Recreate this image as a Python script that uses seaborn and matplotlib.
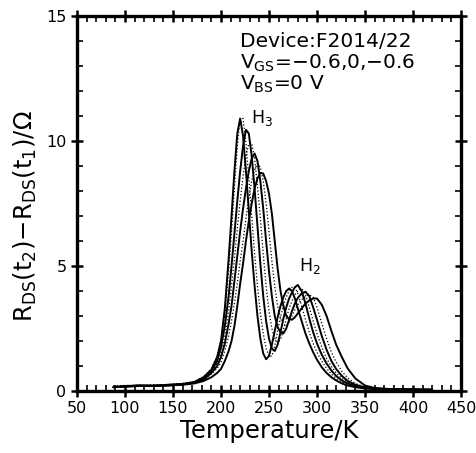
import matplotlib
matplotlib.use("Agg")
import matplotlib.pyplot as plt
import seaborn as sns
from matplotlib.ticker import MultipleLocator

# Temperatura común (K) para todas las curvas
temp = [88, 100, 115, 130, 145, 160, 172, 182, 190, 196, 200, 204, 208, 211, 214, 217,
        220, 223, 226, 229, 232, 235, 238, 241, 244, 247, 250, 253, 256, 259, 262, 265,
        268, 271, 274, 277, 280, 284, 288, 292, 296, 300, 305, 310, 315, 320, 326, 332,
        340, 350, 360, 375, 390, 405, 420]

# R_DS(t2) - R_DS(t1) en ohmios, una lista por curva (sólida / punteada alternadas)
curve_0 = [0.15, 0.20, 0.22, 0.20, 0.25, 0.28, 0.35, 0.55, 0.85, 1.35, 2.0, 3.3, 5.3, 7.0, 8.8, 10.3,
           10.9, 10.2, 8.8, 7.2, 5.6, 4.2, 3.0, 2.1, 1.5, 1.27, 1.4, 1.85, 2.4, 2.95, 3.4, 3.75,
           4.0, 4.1, 4.0, 3.7, 3.3, 2.8, 2.3, 1.9, 1.55, 1.25, 0.95, 0.72, 0.55, 0.42, 0.30, 0.22,
           0.15, 0.10, 0.08, 0.07, 0.06, 0.05, 0.05]
curve_1 = [0.18, 0.22, 0.20, 0.24, 0.22, 0.30, 0.38, 0.58, 0.90, 1.4, 2.0, 3.1, 4.8, 6.4, 8.1, 9.8,
           10.9, 10.9, 9.9, 8.5, 7.0, 5.5, 4.2, 3.1, 2.3, 1.7, 1.38, 1.4, 1.8, 2.4, 2.95, 3.4,
           3.75, 4.0, 4.15, 4.15, 3.9, 3.4, 2.85, 2.35, 1.9, 1.55, 1.2, 0.90, 0.68, 0.50, 0.36, 0.26,
           0.17, 0.11, 0.08, 0.07, 0.06, 0.05, 0.05]
curve_2 = [0.15, 0.18, 0.22, 0.20, 0.24, 0.27, 0.35, 0.52, 0.80, 1.2, 1.75, 2.6, 3.8, 5.0, 6.3, 7.6,
           8.8, 9.8, 10.45, 10.3, 9.4, 8.1, 6.6, 5.1, 3.8, 2.8, 2.1, 1.7, 1.6, 1.85, 2.35, 2.9,
           3.35, 3.7, 3.95, 4.15, 4.24, 4.0, 3.5, 2.9, 2.35, 1.9, 1.45, 1.1, 0.82, 0.60, 0.42, 0.30,
           0.19, 0.12, 0.09, 0.07, 0.06, 0.06, 0.05]
curve_3 = [0.20, 0.20, 0.24, 0.22, 0.26, 0.30, 0.36, 0.50, 0.78, 1.1, 1.5, 2.2, 3.2, 4.2, 5.3, 6.5,
           7.6, 8.6, 9.4, 9.9, 9.9, 9.3, 8.2, 6.9, 5.5, 4.2, 3.2, 2.5, 2.1, 1.95, 2.05, 2.45,
           2.9, 3.3, 3.6, 3.85, 4.0, 4.1, 3.85, 3.35, 2.8, 2.3, 1.75, 1.3, 0.98, 0.72, 0.50, 0.35,
           0.22, 0.13, 0.09, 0.07, 0.06, 0.06, 0.05]
curve_4 = [0.16, 0.18, 0.20, 0.22, 0.22, 0.26, 0.33, 0.46, 0.72, 1.0, 1.35, 1.9, 2.7, 3.4, 4.4, 5.4,
           6.4, 7.3, 8.1, 8.8, 9.3, 9.5, 9.2, 8.4, 7.3, 6.0, 4.8, 3.8, 3.0, 2.55, 2.35, 2.3,
           2.5, 2.85, 3.2, 3.5, 3.72, 3.9, 3.97, 3.8, 3.35, 2.85, 2.2, 1.65, 1.2, 0.88, 0.60, 0.40,
           0.25, 0.14, 0.10, 0.07, 0.06, 0.05, 0.05]
curve_5 = [0.20, 0.22, 0.20, 0.25, 0.24, 0.28, 0.32, 0.44, 0.68, 0.9, 1.15, 1.6, 2.2, 2.8, 3.5, 4.3,
           5.2, 6.0, 6.9, 7.7, 8.4, 8.85, 9.1, 8.95, 8.4, 7.5, 6.4, 5.2, 4.2, 3.4, 2.9, 2.65,
           2.6, 2.75, 3.0, 3.25, 3.45, 3.65, 3.78, 3.85, 3.75, 3.35, 2.7, 2.1, 1.55, 1.15, 0.78, 0.52,
           0.30, 0.16, 0.10, 0.08, 0.06, 0.06, 0.05]
curve_6 = [0.15, 0.18, 0.20, 0.20, 0.22, 0.25, 0.30, 0.40, 0.55, 0.72, 0.88, 1.2, 1.6, 2.0, 2.6, 3.4,
           4.3, 5.1, 6.0, 6.8, 7.5, 8.1, 8.5, 8.72, 8.7, 8.4, 7.9, 7.1, 6.0, 4.9, 4.0, 3.4,
           3.0, 2.87, 2.85, 2.95, 3.1, 3.3, 3.5, 3.62, 3.7, 3.7, 3.45, 3.0, 2.4, 1.85, 1.35, 0.90,
           0.50, 0.22, 0.12, 0.08, 0.07, 0.06, 0.05]

curves = [curve_0, curve_1, curve_2, curve_3, curve_4, curve_5, curve_6]
styles = ["-", ":", "-", ":", "-", ":", "-"]

sns.set_theme(style="ticks")
plt.rcParams["font.family"] = ["DejaVu Sans"]
plt.rcParams["mathtext.default"] = "regular"
plt.rcParams["text.color"] = "black"
plt.rcParams["axes.labelcolor"] = "black"

fig = plt.figure(figsize=(4.77, 4.53), dpi=100)
ax = fig.add_axes([0.1614, 0.1369, 0.805, 0.8278])

for vals, ls in zip(curves, styles):
    lw = 1.4 if ls == "-" else 0.9
    sns.lineplot(x=temp, y=vals, ax=ax, color="black", linestyle=ls, linewidth=lw)

ax.set_xlim(50, 450)
ax.set_ylim(0, 15)
ax.xaxis.set_major_locator(MultipleLocator(50))
ax.xaxis.set_minor_locator(MultipleLocator(10))
ax.yaxis.set_major_locator(MultipleLocator(5))
ax.yaxis.set_minor_locator(MultipleLocator(1))
ax.tick_params(which="major", direction="inout", length=9, width=1.8, labelsize=11.5,
               top=True, right=True, pad=3, colors="black")
ax.tick_params(which="minor", direction="in", length=4, width=1.4, top=True, right=True)
for sp in ax.spines.values():
    sp.set_linewidth(2.4)
    sp.set_color("black")

ax.set_xlabel("Temperature/K", fontsize=17.5, labelpad=2)
ax.set_ylabel("$R_{DS}(t_2)$\u2212$R_{DS}(t_1)$/\u03a9", fontsize=17.5)
ax.yaxis.set_label_coords(-0.10, 0.467)

ax.text(219.5, 13.76, "Device:F2014/22", fontsize=14.5, va="baseline")
ax.text(219.5, 12.88, "$V_{GS}$=\u22120.6,0,\u22120.6", fontsize=14.5, va="baseline")
ax.text(219.5, 12.04, "$V_{BS}$=0 V", fontsize=14.5, va="baseline")
ax.text(243, 10.9, "$H_3$", fontsize=12.5, ha="center", va="center")
ax.text(293, 5.0, "$H_2$", fontsize=12.5, ha="center", va="center")

fig.savefig("out.png", dpi=100, facecolor="white")
